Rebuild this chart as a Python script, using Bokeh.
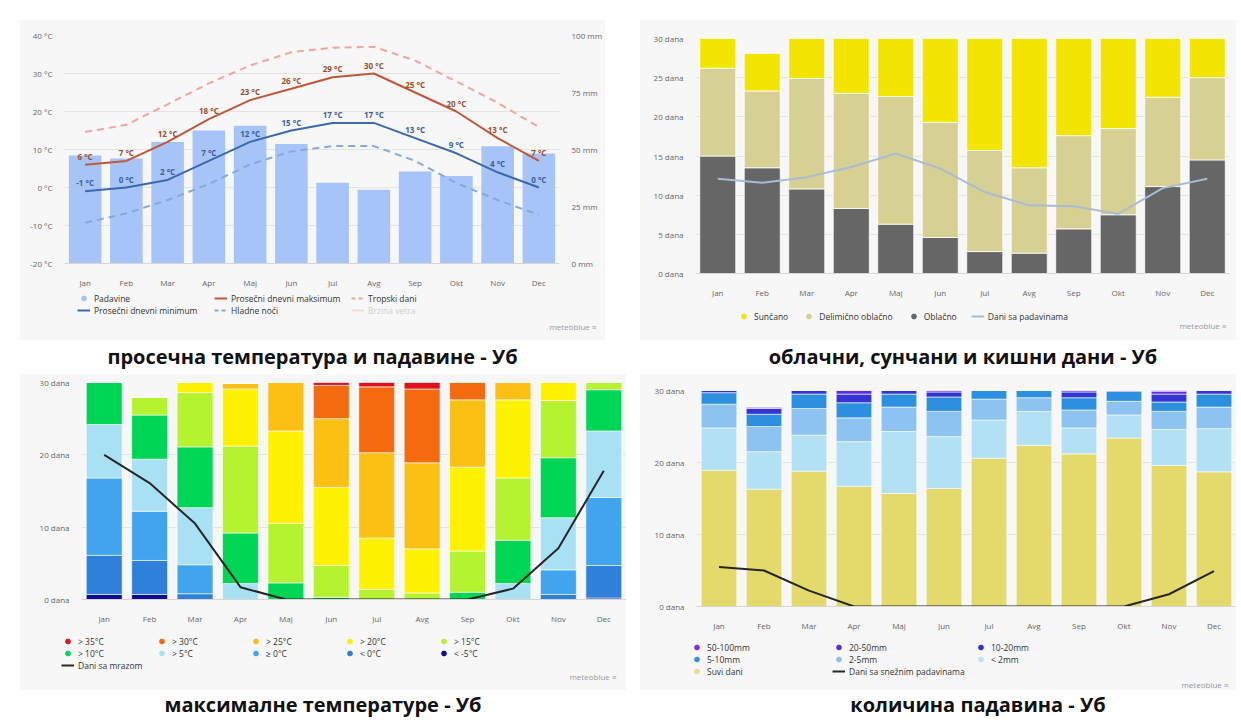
from bokeh.plotting import figure
from bokeh.models import (ColumnDataSource, FactorRange, Range1d, LinearAxis, FixedTicker,
                          Legend, LegendItem, Label, Div, Spacer)
from bokeh.layouts import row, column
from bokeh.embed import file_html
from bokeh.resources import INLINE
from bokeh.core.properties import value

FONT = "Open Sans"
BG = "#f7f7f7"
NAN = float("nan")
OVERLAP = 3

months = ["Jan", "Feb", "Mar", "Apr", "Maj", "Jun", "Jul", "Avg", "Sep", "Okt", "Nov", "Dec"]

# ---------- Panel 1: temperature & precipitation ----------
precip_mm = [47.4, 46.1, 53.3, 58.3, 60.4, 52.4, 35.4, 32.4, 40.4, 38.4, 51.4, 48.3]
t_max = [6, 7, 12, 18, 23, 26, 29, 30, 25, 20, 13, 7]
t_min = [-1, 0, 2, 7, 12, 15, 17, 17, 13, 9, 4, 0]
hot_days = [14.6, 16.5, 21.9, 27.4, 32.1, 35.6, 36.8, 37.0, 33.4, 27.9, 22.3, 15.9]
cold_nights = [-9.3, -6.8, -3.3, 0.9, 6.1, 9.5, 10.9, 10.9, 7.0, 1.2, -3.3, -7.2]
temp_ticks = [-20, -10, 0, 10, 20, 30, 40]
mm_ticks = [0, 25, 50, 75, 100]

# ---------- Panel 2: cloudy / sunny / precipitation days ----------
oblacno = [15.0, 13.5, 10.8, 8.3, 6.3, 4.6, 2.8, 2.6, 5.7, 7.5, 11.1, 14.5]
delimicno = [11.2, 9.8, 14.1, 14.7, 16.3, 14.7, 12.9, 10.9, 11.9, 11.0, 11.4, 10.5]
suncano = [3.8, 4.8, 5.1, 7.0, 7.4, 10.7, 14.3, 16.5, 12.4, 11.5, 7.5, 5.0]
precip_days = [12.1, 11.6, 12.3, 13.6, 15.3, 13.4, 10.4, 8.7, 8.6, 7.6, 10.9, 12.1]
days_ticks5 = [0, 5, 10, 15, 20, 25, 30]

# ---------- Panel 3: maximum temperatures ----------
mt_lt_m5 = [0.7, 0.7, 0, 0, 0, 0, 0, 0, 0, 0, 0, 0.2]
mt_lt_0 = [5.4, 4.7, 0.8, 0, 0, 0, 0, 0, 0, 0, 0.7, 4.5]
mt_ge_0 = [10.7, 6.8, 4.0, 0, 0, 0, 0, 0, 0, 0, 3.4, 9.4]
mt_gt_5 = [7.4, 7.2, 7.9, 2.2, 0, 0, 0, 0, 0, 2.2, 7.2, 9.2]
mt_gt_10 = [5.8, 6.1, 8.4, 7.0, 2.3, 0.3, 0, 0, 1.0, 6.0, 8.3, 5.7]
mt_gt_15 = [0, 2.5, 7.5, 12.0, 8.2, 4.4, 1.4, 0.9, 5.7, 8.6, 7.9, 1.0]
mt_gt_20 = [0, 0, 1.4, 7.9, 12.8, 10.8, 7.1, 6.1, 11.6, 10.8, 2.5, 0]
mt_gt_25 = [0, 0, 0, 0.8, 6.7, 9.5, 11.8, 11.9, 9.3, 2.4, 0, 0]
mt_gt_30 = [0, 0, 0, 0, 0, 4.6, 9.1, 10.2, 2.4, 0, 0, 0]
mt_gt_35 = [0, 0, 0, 0, 0, 0.4, 0.6, 0.9, 0, 0, 0, 0]
frost_days = [20.0, 16.1, 10.5, 1.7, 0, 0, 0, 0, 0, 1.5, 7.1, 17.8]
mt_labels = ["> 35°C", "> 30°C", "> 25°C", "> 20°C", "> 15°C",
             "> 10°C", "> 5°C", "≥ 0°C", "< 0°C", "< -5°C"]
days_ticks10 = [0, 10, 20, 30]

# ---------- Panel 4: precipitation amounts ----------
pr_dry = [18.9, 16.3, 18.8, 16.7, 15.7, 16.4, 20.6, 22.4, 21.2, 23.4, 19.6, 18.7]
pr_lt2 = [5.9, 5.2, 5.0, 6.2, 8.6, 7.2, 5.3, 4.7, 3.6, 3.2, 5.0, 6.0]
pr_2_5 = [3.3, 3.5, 3.7, 3.3, 3.4, 3.5, 2.9, 1.9, 2.5, 1.9, 2.5, 3.0]
pr_5_10 = [1.6, 1.7, 2.0, 2.1, 1.8, 2.0, 1.2, 1.0, 1.7, 1.4, 1.3, 1.8]
pr_10_20 = [0.3, 0.8, 0.5, 1.2, 0.5, 0.7, 0, 0, 0.8, 0.1, 1.1, 0.5]
pr_20_50 = [0, 0.2, 0, 0.5, 0, 0.2, 0, 0, 0.2, 0, 0.4, 0]
pr_50_100 = [0, 0, 0, 0, 0, 0, 0, 0, 0, 0, 0.1, 0]
snow_days = [5.5, 5.0, 2.2, 0, 0, 0, 0, 0, 0, 0, 1.7, 4.9]
pr_labels = ["50-100mm", "20-50mm", "10-20mm", "5-10mm", "2-5mm", "< 2mm", "Suvi dani"]

captions = ["просечна температура и падавине - Уб",
            "облачни, сунчани и кишни дани - Уб",
            "максималне температуре - Уб",
            "количина падавина - Уб"]


def base_fig(w, h, y_range, mbl, mbr, mbt, mbb):
    p = figure(width=w, height=h, x_range=FactorRange(*months), y_range=y_range,
               output_backend="svg", toolbar_location=None,
               min_border_left=mbl, min_border_right=mbr, min_border_top=mbt,
               min_border_bottom=mbb, background_fill_color=BG, border_fill_color=BG,
               outline_line_color=None)
    p.frame_align = False
    p.xgrid.grid_line_color = None
    p.ygrid.grid_line_color = "#e3e3e3"
    p.xaxis.axis_line_color = "#d6d6d6"
    p.xaxis.major_tick_line_color = None
    p.xaxis.minor_tick_line_color = None
    p.xaxis.major_label_standoff = 7
    p.yaxis.axis_line_color = None
    p.yaxis.major_tick_line_color = None
    p.yaxis.minor_tick_line_color = None
    p.yaxis.major_label_standoff = 6
    for ax in p.axis:
        ax.major_label_text_font = FONT
        ax.major_label_text_font_size = "8px"
        ax.major_label_text_color = "#666666"
    return p


def style_axis(ax):
    ax.major_label_text_font = FONT
    ax.major_label_text_font_size = "8px"
    ax.major_label_text_color = "#666666"
    ax.axis_line_color = None
    ax.major_tick_line_color = None
    ax.minor_tick_line_color = None
    ax.major_label_standoff = 6


def legend_fig(w, h):
    # slightly overlaps the chart above so no seam shows between the two canvases
    q = figure(width=w, height=h + OVERLAP, x_range=Range1d(0, 1), y_range=Range1d(0, 1),
               x_axis_location=None, y_axis_location=None, toolbar_location=None,
               output_backend="svg", min_border=0, outline_line_color=None,
               background_fill_color=BG, border_fill_color=BG,
               margin=(-OVERLAP, 0, 0, 0))
    q.frame_align = False
    for g in q.grid:
        g.visible = False
        g.grid_line_color = None
    return q


def add_legend(q, items, ncols, label_width, loc, spacing=0, text_color="#333333"):
    lg = Legend(items=items, orientation="horizontal", ncols=ncols, location=loc,
                label_text_font=FONT, label_text_font_size="8.5px",
                label_text_color=text_color, label_height=12, label_width=label_width,
                glyph_height=12, glyph_width=13, label_standoff=4, spacing=spacing,
                padding=2, margin=0, border_line_color=None, background_fill_alpha=0,
                click_policy="none")
    q.add_layout(lg)
    return lg


def brand(q, xy):
    q.add_layout(Label(x=xy[0], y=xy[1], x_units="screen", y_units="screen",
                       text="meteoblue  ≡", text_align="right", text_baseline="middle",
                       text_font=FONT, text_font_size="8px", text_color="#999999"))


# legend-only proxy glyphs (NaN data: never drawn on the canvas)
def dot(q, color):
    return q.scatter(x=[NAN], y=[NAN], marker="circle", color=color)


def seg(q, color, dash="solid"):
    return q.line(x=[NAN, NAN], y=[NAN, NAN], color=color, line_width=2, line_dash=dash)


def caption(text, w, h, shift):
    html = ('<div style="width:%dpx;height:%dpx;display:flex;align-items:center;'
            'justify-content:center;font-family:\'Open Sans\';font-weight:700;'
            'font-size:20px;color:#111;padding-left:%dpx;box-sizing:border-box;">%s</div>'
            % (w, h, shift, text))
    return Div(text=html, width=w, height=h, margin=(0, 0, 0, 0))


def panel(p, q, cap):
    inner = column(p, q, styles={"background-color": BG})
    return column(inner, cap)


C_PAD, C_MAX, C_MIN, C_HOT, C_COLD = "#a6c4f8", "#c1573a", "#3c68b0", "#f2a69c", "#86a9d8"

# ================= Panel 1 =================
p1 = base_fig(585, 270, Range1d(-20, 40), 44, 33, 15, 22)
p1.extra_y_ranges = {"mm": Range1d(0, 100)}
p1.yaxis.ticker = FixedTicker(ticks=temp_ticks)
p1.yaxis.major_label_overrides = {t: "%d °C" % t for t in temp_ticks}
ax_mm = LinearAxis(y_range_name="mm", ticker=FixedTicker(ticks=mm_ticks),
                   major_label_overrides={t: "%d mm" % t for t in mm_ticks})
style_axis(ax_mm)
p1.add_layout(ax_mm, "right")

s1 = ColumnDataSource(dict(m=months, pr=precip_mm, tmax=t_max, tmin=t_min,
                           hot=hot_days, cold=cold_nights,
                           lmax=["%d °C" % v for v in t_max],
                           lmin=["%d °C" % v for v in t_min]))
p1.vbar(x="m", top="pr", width=0.79, y_range_name="mm", source=s1,
        color=C_PAD, line_color=None)
p1.line(x="m", y="hot", source=s1, color=C_HOT, line_width=2, line_dash="7 5")
p1.line(x="m", y="cold", source=s1, color=C_COLD, line_width=2, line_dash="7 5")
p1.line(x="m", y="tmax", source=s1, color=C_MAX, line_width=2)
p1.line(x="m", y="tmin", source=s1, color=C_MIN, line_width=2)
p1.text(x="m", y="tmax", text="lmax", source=s1, text_font=value(FONT), text_font_size="8px",
        text_font_style="bold", text_color="#9e4f31", text_align="center",
        text_baseline="bottom", y_offset=-3)
p1.text(x="m", y="tmin", text="lmin", source=s1, text_font=value(FONT), text_font_size="8px",
        text_font_style="bold", text_color="#3c5e9c", text_align="center",
        text_baseline="bottom", y_offset=-3)

q1 = legend_fig(585, 50)
add_legend(q1, [LegendItem(label="Padavine", renderers=[dot(q1, C_PAD)]),
                LegendItem(label="Prosečni dnevni maksimum", renderers=[seg(q1, C_MAX)]),
                LegendItem(label="Tropski dani", renderers=[seg(q1, C_HOT, "4 3")]),
                LegendItem(label="Prosečni dnevni minimum", renderers=[seg(q1, C_MIN)]),
                LegendItem(label="Hladne noći", renderers=[seg(q1, C_COLD, "4 3")])],
           3, 120, (57, 24))
# hidden (inactive) series: drawn faded, as in the reference
add_legend(q1, [LegendItem(label="Brzina vetra", renderers=[seg(q1, "#f1dcd8")])],
           1, 120, (57 + 2 * 137, 24), text_color="#cfcfcf")
brand(q1, (578, 14))

# ================= Panel 2 =================
p2 = base_fig(596, 280, Range1d(0, 30), 55, 7, 18, 22)
p2.yaxis.ticker = FixedTicker(ticks=days_ticks5)
p2.yaxis.major_label_overrides = {t: "%d dana" % t for t in days_ticks5}
s2 = ColumnDataSource(dict(m=months, obl=oblacno, dlm=delimicno, sun=suncano, pd=precip_days))
c2 = ["#666666", "#d6d092", "#f4e500"]
C_PD = "#a9bcd6"
p2.vbar_stack(["obl", "dlm", "sun"], x="m", width=0.81, source=s2, color=c2,
              line_color="#ffffff", line_width=0.8)
p2.line(x="m", y="pd", source=s2, color=C_PD, line_width=2)

q2 = legend_fig(596, 40)
add_legend(q2, [LegendItem(label="Sunčano", renderers=[dot(q2, c2[2])]),
                LegendItem(label="Delimično oblačno", renderers=[dot(q2, c2[1])]),
                LegendItem(label="Oblačno", renderers=[dot(q2, c2[0])]),
                LegendItem(label="Dani sa padavinama", renderers=[seg(q2, C_PD)])],
           4, 0, (97, 18), spacing=14)
brand(q2, (588, 15))

# ================= Panel 3 =================
p3 = base_fig(606, 252, Range1d(0, 30), 61, 0, 8, 22)
p3.yaxis.ticker = FixedTicker(ticks=days_ticks10)
p3.yaxis.major_label_overrides = {t: "%d dana" % t for t in days_ticks10}
mt_cols = ["lt_m5", "lt_0", "ge_0", "gt_5", "gt_10", "gt_15", "gt_20", "gt_25", "gt_30", "gt_35"]
mt_colors = ["#0b0b98", "#2f80d8", "#41a4ee", "#a8e1f3", "#00d655", "#b5f22f",
             "#fff200", "#fcbf14", "#f46a0e", "#e0101c"]
C_LINE = "#262626"
s3 = ColumnDataSource(dict(m=months, lt_m5=mt_lt_m5, lt_0=mt_lt_0, ge_0=mt_ge_0, gt_5=mt_gt_5,
                           gt_10=mt_gt_10, gt_15=mt_gt_15, gt_20=mt_gt_20, gt_25=mt_gt_25,
                           gt_30=mt_gt_30, gt_35=mt_gt_35, fr=frost_days))
p3.vbar_stack(mt_cols, x="m", width=0.79, source=s3, color=mt_colors,
              line_color="#ffffff", line_width=0.6)
p3.line(x="m", y="fr", source=s3, color=C_LINE, line_width=2)

q3 = legend_fig(606, 64)
items3 = [LegendItem(label=lbl, renderers=[dot(q3, col)])
          for lbl, col in zip(mt_labels, mt_colors[::-1])]
items3.append(LegendItem(label="Dani sa mrazom", renderers=[seg(q3, C_LINE)]))
add_legend(q3, items3, 5, 77, (41, 19))
brand(q3, (598, 14))

# ================= Panel 4 =================
p4 = base_fig(596, 259, Range1d(0, 30), 56, 0, 16, 22)
p4.yaxis.ticker = FixedTicker(ticks=days_ticks10)
p4.yaxis.major_label_overrides = {t: "%d dana" % t for t in days_ticks10}
pr_cols = ["dry", "lt2", "p2_5", "p5_10", "p10_20", "p20_50", "p50_100"]
pr_colors = ["#e4da6c", "#b2e0f5", "#8cc3f0", "#2c8fe0", "#3535d6", "#5b2fe0", "#8a2be2"]
s4 = ColumnDataSource(dict(m=months, dry=pr_dry, lt2=pr_lt2, p2_5=pr_2_5, p5_10=pr_5_10,
                           p10_20=pr_10_20, p20_50=pr_20_50, p50_100=pr_50_100, sn=snow_days))
p4.vbar_stack(pr_cols, x="m", width=0.79, source=s4, color=pr_colors,
              line_color="#ffffff", line_width=0.6)
p4.line(x="m", y="sn", source=s4, color=C_LINE, line_width=2)

q4 = legend_fig(596, 57)
pr_leg_colors = ["#8a2be2", "#5f30d8", "#3232d0", "#3a8de0", "#8dbdf0", "#bde2f6", "#e6de8a"]
items4 = [LegendItem(label=lbl, renderers=[dot(q4, col)])
          for lbl, col in zip(pr_labels, pr_leg_colors)]
items4.append(LegendItem(label="Dani sa snežnim padavinama", renderers=[seg(q4, C_LINE)]))
add_legend(q4, items4, 3, 125, (50, 13))
brand(q4, (590, 6))

top = row(Spacer(width=20), panel(p1, q1, caption(captions[0], 585, 34, 0)),
          Spacer(width=35), panel(p2, q2, caption(captions[1], 596, 34, 50)))
bottom = row(Spacer(width=20), panel(p3, q3, caption(captions[2], 606, 30, 0)),
             Spacer(width=14), panel(p4, q4, caption(captions[3], 596, 30, 80)))
layout = column(Spacer(height=20), top, bottom)

open("out.html", "w").write(file_html(layout, INLINE))
